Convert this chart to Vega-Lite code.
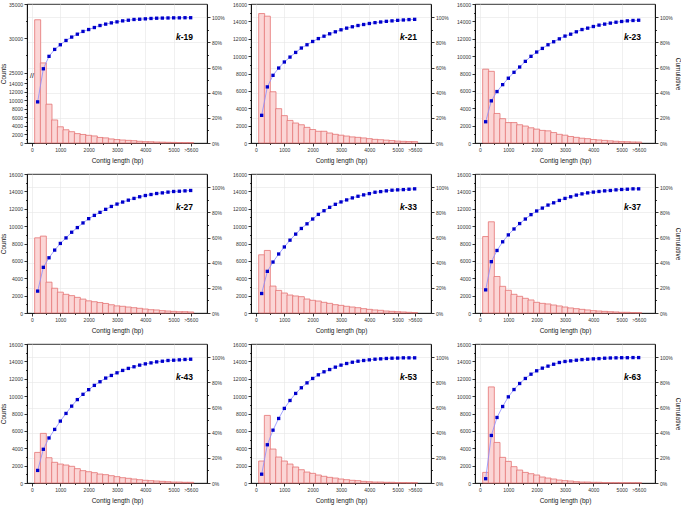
{
"$schema": "https://vega.github.io/schema/vega-lite/v6.json",
"padding": {"left": 0, "top": 1, "right": 0, "bottom": 0},
"datasets": {
"d": [
{"k":"19","len":200,"count":32700,"cum":0.327},{"k":"19","len":400,"count":26400,"cum":0.59},{"k":"19","len":600,"count":9100,"cum":0.689},{"k":"19","len":800,"count":5400,"cum":0.744},{"k":"19","len":1000,"count":3800,"cum":0.781},{"k":"19","len":1200,"count":3100,"cum":0.815},{"k":"19","len":1400,"count":2650,"cum":0.842},{"k":"19","len":1600,"count":2200,"cum":0.865},{"k":"19","len":1800,"count":2000,"cum":0.887},{"k":"19","len":2000,"count":1800,"cum":0.902},{"k":"19","len":2200,"count":1650,"cum":0.918},{"k":"19","len":2400,"count":1300,"cum":0.934},{"k":"19","len":2600,"count":1200,"cum":0.945},{"k":"19","len":2800,"count":950,"cum":0.955},{"k":"19","len":3000,"count":800,"cum":0.963},{"k":"19","len":3200,"count":700,"cum":0.971},{"k":"19","len":3400,"count":620,"cum":0.976},{"k":"19","len":3600,"count":540,"cum":0.982},{"k":"19","len":3800,"count":400,"cum":0.984},{"k":"19","len":4000,"count":320,"cum":0.987},{"k":"19","len":4200,"count":300,"cum":0.99},{"k":"19","len":4400,"count":230,"cum":0.992},{"k":"19","len":4600,"count":200,"cum":0.993},{"k":"19","len":4800,"count":160,"cum":0.994},{"k":"19","len":5000,"count":140,"cum":0.995},{"k":"19","len":5200,"count":100,"cum":0.995},{"k":"19","len":5400,"count":80,"cum":0.996},{"k":"19","len":5600,"count":80,"cum":0.996},
{"k":"21","len":200,"count":14900,"cum":0.22},{"k":"21","len":400,"count":14600,"cum":0.446},{"k":"21","len":600,"count":5900,"cum":0.538},{"k":"21","len":800,"count":3950,"cum":0.596},{"k":"21","len":1000,"count":3150,"cum":0.644},{"k":"21","len":1200,"count":2600,"cum":0.683},{"k":"21","len":1400,"count":2300,"cum":0.72},{"k":"21","len":1600,"count":2100,"cum":0.755},{"k":"21","len":1800,"count":1800,"cum":0.781},{"k":"21","len":2000,"count":1550,"cum":0.807},{"k":"21","len":2200,"count":1350,"cum":0.83},{"k":"21","len":2400,"count":1350,"cum":0.849},{"k":"21","len":2600,"count":1150,"cum":0.868},{"k":"21","len":2800,"count":1000,"cum":0.884},{"k":"21","len":3000,"count":900,"cum":0.9},{"k":"21","len":3200,"count":800,"cum":0.913},{"k":"21","len":3400,"count":700,"cum":0.924},{"k":"21","len":3600,"count":650,"cum":0.934},{"k":"21","len":3800,"count":580,"cum":0.942},{"k":"21","len":4000,"count":500,"cum":0.95},{"k":"21","len":4200,"count":420,"cum":0.957},{"k":"21","len":4400,"count":380,"cum":0.962},{"k":"21","len":4600,"count":330,"cum":0.967},{"k":"21","len":4800,"count":280,"cum":0.971},{"k":"21","len":5000,"count":220,"cum":0.975},{"k":"21","len":5200,"count":190,"cum":0.978},{"k":"21","len":5400,"count":170,"cum":0.981},{"k":"21","len":5600,"count":160,"cum":0.983},
{"k":"23","len":200,"count":8500,"cum":0.169},{"k":"23","len":400,"count":8250,"cum":0.335},{"k":"23","len":600,"count":3400,"cum":0.409},{"k":"23","len":800,"count":2800,"cum":0.464},{"k":"23","len":1000,"count":2350,"cum":0.515},{"k":"23","len":1200,"count":2350,"cum":0.562},{"k":"23","len":1400,"count":2100,"cum":0.604},{"k":"23","len":1600,"count":1950,"cum":0.649},{"k":"23","len":1800,"count":1750,"cum":0.689},{"k":"23","len":2000,"count":1600,"cum":0.723},{"k":"23","len":2200,"count":1450,"cum":0.752},{"k":"23","len":2400,"count":1400,"cum":0.781},{"k":"23","len":2600,"count":1200,"cum":0.805},{"k":"23","len":2800,"count":1000,"cum":0.828},{"k":"23","len":3000,"count":900,"cum":0.85},{"k":"23","len":3200,"count":750,"cum":0.865},{"k":"23","len":3400,"count":650,"cum":0.884},{"k":"23","len":3600,"count":550,"cum":0.902},{"k":"23","len":3800,"count":500,"cum":0.913},{"k":"23","len":4000,"count":400,"cum":0.926},{"k":"23","len":4200,"count":350,"cum":0.937},{"k":"23","len":4400,"count":300,"cum":0.945},{"k":"23","len":4600,"count":250,"cum":0.953},{"k":"23","len":4800,"count":200,"cum":0.96},{"k":"23","len":5000,"count":160,"cum":0.966},{"k":"23","len":5200,"count":150,"cum":0.971},{"k":"23","len":5400,"count":120,"cum":0.974},{"k":"23","len":5600,"count":110,"cum":0.976},
{"k":"27","len":200,"count":8650,"cum":0.174},{"k":"27","len":400,"count":8850,"cum":0.363},{"k":"27","len":600,"count":3550,"cum":0.439},{"k":"27","len":800,"count":2850,"cum":0.5},{"k":"27","len":1000,"count":2400,"cum":0.553},{"k":"27","len":1200,"count":2150,"cum":0.597},{"k":"27","len":1400,"count":2000,"cum":0.642},{"k":"27","len":1600,"count":1800,"cum":0.679},{"k":"27","len":1800,"count":1600,"cum":0.716},{"k":"27","len":2000,"count":1400,"cum":0.75},{"k":"27","len":2200,"count":1300,"cum":0.776},{"k":"27","len":2400,"count":1200,"cum":0.8},{"k":"27","len":2600,"count":1100,"cum":0.824},{"k":"27","len":2800,"count":950,"cum":0.847},{"k":"27","len":3000,"count":820,"cum":0.866},{"k":"27","len":3200,"count":770,"cum":0.882},{"k":"27","len":3400,"count":690,"cum":0.897},{"k":"27","len":3600,"count":610,"cum":0.911},{"k":"27","len":3800,"count":540,"cum":0.924},{"k":"27","len":4000,"count":460,"cum":0.934},{"k":"27","len":4200,"count":380,"cum":0.942},{"k":"27","len":4400,"count":350,"cum":0.95},{"k":"27","len":4600,"count":270,"cum":0.955},{"k":"27","len":4800,"count":230,"cum":0.961},{"k":"27","len":5000,"count":190,"cum":0.966},{"k":"27","len":5200,"count":150,"cum":0.968},{"k":"27","len":5400,"count":150,"cum":0.971},{"k":"27","len":5600,"count":120,"cum":0.974},
{"k":"33","len":200,"count":6700,"cum":0.155},{"k":"33","len":400,"count":7200,"cum":0.331},{"k":"33","len":600,"count":3100,"cum":0.405},{"k":"33","len":800,"count":2600,"cum":0.469},{"k":"33","len":1000,"count":2300,"cum":0.525},{"k":"33","len":1200,"count":2070,"cum":0.579},{"k":"33","len":1400,"count":1960,"cum":0.627},{"k":"33","len":1600,"count":1880,"cum":0.672},{"k":"33","len":1800,"count":1610,"cum":0.709},{"k":"33","len":2000,"count":1460,"cum":0.747},{"k":"33","len":2200,"count":1380,"cum":0.784},{"k":"33","len":2400,"count":1230,"cum":0.813},{"k":"33","len":2600,"count":1110,"cum":0.84},{"k":"33","len":2800,"count":960,"cum":0.864},{"k":"33","len":3000,"count":880,"cum":0.883},{"k":"33","len":3200,"count":770,"cum":0.899},{"k":"33","len":3400,"count":690,"cum":0.915},{"k":"33","len":3600,"count":610,"cum":0.928},{"k":"33","len":3800,"count":500,"cum":0.939},{"k":"33","len":4000,"count":420,"cum":0.949},{"k":"33","len":4200,"count":350,"cum":0.96},{"k":"33","len":4400,"count":310,"cum":0.965},{"k":"33","len":4600,"count":230,"cum":0.971},{"k":"33","len":4800,"count":190,"cum":0.976},{"k":"33","len":5000,"count":150,"cum":0.979},{"k":"33","len":5200,"count":120,"cum":0.981},{"k":"33","len":5400,"count":80,"cum":0.984},{"k":"33","len":5600,"count":50,"cum":0.987},
{"k":"37","len":200,"count":8800,"cum":0.184},{"k":"37","len":400,"count":10500,"cum":0.408},{"k":"37","len":600,"count":4200,"cum":0.497},{"k":"37","len":800,"count":3070,"cum":0.566},{"k":"37","len":1000,"count":2610,"cum":0.621},{"k":"37","len":1200,"count":2150,"cum":0.668},{"k":"37","len":1400,"count":1920,"cum":0.711},{"k":"37","len":1600,"count":1690,"cum":0.747},{"k":"37","len":1800,"count":1500,"cum":0.782},{"k":"37","len":2000,"count":1230,"cum":0.811},{"k":"37","len":2200,"count":1110,"cum":0.834},{"k":"37","len":2400,"count":1040,"cum":0.858},{"k":"37","len":2600,"count":920,"cum":0.876},{"k":"37","len":2800,"count":810,"cum":0.895},{"k":"37","len":3000,"count":690,"cum":0.911},{"k":"37","len":3200,"count":580,"cum":0.924},{"k":"37","len":3400,"count":500,"cum":0.937},{"k":"37","len":3600,"count":420,"cum":0.947},{"k":"37","len":3800,"count":350,"cum":0.955},{"k":"37","len":4000,"count":270,"cum":0.961},{"k":"37","len":4200,"count":230,"cum":0.966},{"k":"37","len":4400,"count":190,"cum":0.971},{"k":"37","len":4600,"count":150,"cum":0.974},{"k":"37","len":4800,"count":120,"cum":0.979},{"k":"37","len":5000,"count":80,"cum":0.982},{"k":"37","len":5200,"count":80,"cum":0.984},{"k":"37","len":5400,"count":50,"cum":0.987},{"k":"37","len":5600,"count":40,"cum":0.987},
{"k":"43","len":200,"count":3520,"cum":0.10},{"k":"43","len":400,"count":5710,"cum":0.268},{"k":"43","len":600,"count":2910,"cum":0.358},{"k":"43","len":800,"count":2380,"cum":0.426},{"k":"43","len":1000,"count":2180,"cum":0.492},{"k":"43","len":1200,"count":2070,"cum":0.553},{"k":"43","len":1400,"count":1920,"cum":0.611},{"k":"43","len":1600,"count":1650,"cum":0.663},{"k":"43","len":1800,"count":1420,"cum":0.705},{"k":"43","len":2000,"count":1300,"cum":0.742},{"k":"43","len":2200,"count":1190,"cum":0.776},{"k":"43","len":2400,"count":1030,"cum":0.805},{"k":"43","len":2600,"count":960,"cum":0.834},{"k":"43","len":2800,"count":840,"cum":0.855},{"k":"43","len":3000,"count":730,"cum":0.876},{"k":"43","len":3200,"count":610,"cum":0.895},{"k":"43","len":3400,"count":540,"cum":0.911},{"k":"43","len":3600,"count":460,"cum":0.924},{"k":"43","len":3800,"count":380,"cum":0.937},{"k":"43","len":4000,"count":310,"cum":0.947},{"k":"43","len":4200,"count":270,"cum":0.955},{"k":"43","len":4400,"count":230,"cum":0.963},{"k":"43","len":4600,"count":190,"cum":0.968},{"k":"43","len":4800,"count":150,"cum":0.974},{"k":"43","len":5000,"count":110,"cum":0.976},{"k":"43","len":5200,"count":110,"cum":0.979},{"k":"43","len":5400,"count":80,"cum":0.982},{"k":"43","len":5600,"count":80,"cum":0.984},
{"k":"53","len":200,"count":2530,"cum":0.07},{"k":"53","len":400,"count":7780,"cum":0.304},{"k":"53","len":600,"count":3910,"cum":0.42},{"k":"53","len":800,"count":2990,"cum":0.513},{"k":"53","len":1000,"count":2530,"cum":0.593},{"k":"53","len":1200,"count":2180,"cum":0.656},{"k":"53","len":1400,"count":1840,"cum":0.712},{"k":"53","len":1600,"count":1530,"cum":0.757},{"k":"53","len":1800,"count":1260,"cum":0.796},{"k":"53","len":2000,"count":1110,"cum":0.831},{"k":"53","len":2200,"count":920,"cum":0.86},{"k":"53","len":2400,"count":770,"cum":0.884},{"k":"53","len":2600,"count":650,"cum":0.902},{"k":"53","len":2800,"count":570,"cum":0.921},{"k":"53","len":3000,"count":460,"cum":0.937},{"k":"53","len":3200,"count":380,"cum":0.95},{"k":"53","len":3400,"count":310,"cum":0.96},{"k":"53","len":3600,"count":270,"cum":0.968},{"k":"53","len":3800,"count":190,"cum":0.974},{"k":"53","len":4000,"count":150,"cum":0.979},{"k":"53","len":4200,"count":110,"cum":0.984},{"k":"53","len":4400,"count":110,"cum":0.987},{"k":"53","len":4600,"count":80,"cum":0.99},{"k":"53","len":4800,"count":80,"cum":0.992},{"k":"53","len":5000,"count":40,"cum":0.993},{"k":"53","len":5200,"count":40,"cum":0.995},{"k":"53","len":5400,"count":30,"cum":0.995},{"k":"53","len":5600,"count":30,"cum":0.995},
{"k":"63","len":200,"count":1220,"cum":0.034},{"k":"63","len":400,"count":11060,"cum":0.378},{"k":"63","len":600,"count":4670,"cum":0.521},{"k":"63","len":800,"count":2950,"cum":0.608},{"k":"63","len":1000,"count":2490,"cum":0.685},{"k":"63","len":1200,"count":1880,"cum":0.743},{"k":"63","len":1400,"count":1490,"cum":0.791},{"k":"63","len":1600,"count":1220,"cum":0.831},{"k":"63","len":1800,"count":1070,"cum":0.865},{"k":"63","len":2000,"count":920,"cum":0.892},{"k":"63","len":2200,"count":690,"cum":0.913},{"k":"63","len":2400,"count":570,"cum":0.929},{"k":"63","len":2600,"count":460,"cum":0.944},{"k":"63","len":2800,"count":340,"cum":0.958},{"k":"63","len":3000,"count":270,"cum":0.966},{"k":"63","len":3200,"count":230,"cum":0.971},{"k":"63","len":3400,"count":150,"cum":0.976},{"k":"63","len":3600,"count":110,"cum":0.981},{"k":"63","len":3800,"count":110,"cum":0.984},{"k":"63","len":4000,"count":80,"cum":0.987},{"k":"63","len":4200,"count":80,"cum":0.989},{"k":"63","len":4400,"count":40,"cum":0.992},{"k":"63","len":4600,"count":30,"cum":0.994},{"k":"63","len":4800,"count":30,"cum":0.995},{"k":"63","len":5000,"count":20,"cum":0.996},{"k":"63","len":5200,"count":20,"cum":0.996},{"k":"63","len":5400,"count":20,"cum":0.997},{"k":"63","len":5600,"count":20,"cum":0.997}
]},
"data": {"name": "d"},
"config": {
  "font": "Liberation Sans",
  "view": {"stroke": "#000", "strokeWidth": 0.8},
  "axis": {"labelFontSize": 5, "titleFontSize": 6.5, "titleFontWeight": "normal", "labelColor": "#333", "titleColor": "#222", "domainColor": "#000", "tickColor": "#000", "domainWidth": 0.8, "tickWidth": 0.8, "tickSize": 3, "labelPadding": 1.5, "titlePadding": 2, "labelFlush": false, "labelOverlap": false, "labelBound": false, "gridColor": "#e6e6e6", "gridWidth": 0.6},
  "axisX": {"titlePadding": 5}
},
"spacing": 6,
"vconcat": [
{"spacing": 7, "hconcat": [
{"width": 180, "height": 139, "transform": [{"filter": "datum.k == '19'"}],
 "layer": [
  {"layer": [
   {"mark": {"type": "bar", "size": 6, "fill": "#fbd6d6", "stroke": "#e57373", "strokeWidth": 0.8},
    "encoding": {"x": {"field": "len", "type": "quantitative", "scale": {"domain": [0, 6000], "nice": false, "zero": false}, "axis": {"title": "Contig length (bp)", "values": [0,500,1000,1500,2000,2500,3000,3500,4000,4500,5000,5600], "format": "d", "labelOverlap": false, "labelExpr": "datum.value == 5600 ? '>5600' : (datum.value % 1000 == 0 ? datum.label : '')", "tickSize": {"condition": {"test": "datum.value % 1000 == 0 || datum.value == 5600", "value": 3}, "value": 1.5}, "gridOpacity": {"condition": {"test": "datum.value % 1000 == 0", "value": 1}, "value": 0}, "grid": true}},
                 "y": {"field": "count", "type": "quantitative", "scale": {"type": "linear", "domain": [0, 15000, 25000, 35000], "range": [139, 75, 68.5, 0], "nice": false, "zero": false}, "axis": {"title": "Counts", "values": [0,1000,2000,3000,4000,5000,6000,7000,8000,9000,10000,11000,12000,13000,14000,15000,25000,27500,30000,32500,35000], "format": "d", "labelOverlap": false, "labelExpr": "(datum.value % 2000 == 0 && datum.value < 15000) || datum.value == 25000 || datum.value == 30000 || datum.value == 35000 ? datum.label : ''", "tickSize": {"condition": {"test": "(datum.value % 2000 == 0 && datum.value < 15000) || datum.value == 25000 || datum.value == 30000 || datum.value == 35000", "value": 3}, "value": 1.5}, "grid": false}}}},
   {"transform": [{"filter": "datum.len == 200"}], "mark": {"type": "text", "text": "//", "fontSize": 7, "align": "center", "baseline": "middle", "color": "#000"},
    "encoding": {"x": {"datum": 0, "type": "quantitative", "axis": null}, "y": {"datum": 20000, "type": "quantitative", "axis": null}}}
  ], "resolve": {"axis": {"x": "independent", "y": "independent"}}},
  {"layer": [
   {"mark": {"type": "line", "color": "#8c8cff", "strokeWidth": 0.8}, "encoding": {"x": {"field": "len", "type": "quantitative", "axis": null}, "y": {"field": "cum", "type": "quantitative", "scale": {"domain": [0, 1.105], "nice": false}, "axis": {"orient": "right", "title": null, "values": [0,0.1,0.2,0.3,0.4,0.5,0.6,0.7,0.8,0.9,1], "format": ".0%", "labelOverlap": false, "labelExpr": "round(datum.value*100) % 20 == 0 ? datum.label : ''", "tickSize": {"condition": {"test": "round(datum.value*100) % 20 == 0", "value": 3}, "value": 1.5}, "gridOpacity": {"condition": {"test": "round(datum.value*100) % 20 == 0", "value": 1}, "value": 0}, "grid": true}}}},
   {"mark": {"type": "point", "shape": "square", "filled": true, "size": 11, "color": "#0000cc", "opacity": 1}, "encoding": {"x": {"field": "len", "type": "quantitative", "axis": null}, "y": {"field": "cum", "type": "quantitative", "axis": null}}},
   {"transform": [{"filter": "datum.len == 200"}], "mark": {"type": "text", "text": "k", "align": "right", "baseline": "middle", "fontSize": 8.5, "fontWeight": "bold", "fontStyle": "italic", "color": "#000"}, "encoding": {"x": {"datum": 5250, "type": "quantitative", "axis": null}, "y": {"datum": 0.84, "type": "quantitative", "axis": null}}},
   {"transform": [{"filter": "datum.len == 200"}], "mark": {"type": "text", "text": "-19", "align": "left", "baseline": "middle", "fontSize": 8.5, "fontWeight": "bold", "color": "#000"}, "encoding": {"x": {"datum": 5250, "type": "quantitative", "axis": null}, "y": {"datum": 0.84, "type": "quantitative", "axis": null}}}
  ], "resolve": {"axis": {"x": "independent", "y": "independent"}}}
 ],
 "resolve": {"scale": {"y": "independent"}, "axis": {"x": "independent", "y": "independent"}}
},
{"width": 180, "height": 139, "transform": [{"filter": "datum.k == '21'"}],
 "layer": [
  {"mark": {"type": "bar", "size": 6, "fill": "#fbd6d6", "stroke": "#e57373", "strokeWidth": 0.8},
   "encoding": {"x": {"field": "len", "type": "quantitative", "scale": {"domain": [0, 6000], "nice": false, "zero": false}, "axis": {"title": "Contig length (bp)", "values": [0,500,1000,1500,2000,2500,3000,3500,4000,4500,5000,5600], "format": "d", "labelOverlap": false, "labelExpr": "datum.value == 5600 ? '>5600' : (datum.value % 1000 == 0 ? datum.label : '')", "tickSize": {"condition": {"test": "datum.value % 1000 == 0 || datum.value == 5600", "value": 3}, "value": 1.5}, "gridOpacity": {"condition": {"test": "datum.value % 1000 == 0", "value": 1}, "value": 0}, "grid": true}},
                "y": {"field": "count", "type": "quantitative", "scale": {"domain": [0, 16000], "nice": false}, "axis": {"title": null, "values": [0,1000,2000,3000,4000,5000,6000,7000,8000,9000,10000,11000,12000,13000,14000,15000,16000], "format": "d", "labelOverlap": false, "labelExpr": "datum.value % 2000 == 0 ? datum.label : ''", "tickSize": {"condition": {"test": "datum.value % 2000 == 0", "value": 3}, "value": 1.5}, "grid": false}}}},
  {"layer": [
   {"mark": {"type": "line", "color": "#8c8cff", "strokeWidth": 0.8}, "encoding": {"x": {"field": "len", "type": "quantitative", "axis": null}, "y": {"field": "cum", "type": "quantitative", "scale": {"domain": [0, 1.105], "nice": false}, "axis": {"orient": "right", "title": null, "values": [0,0.1,0.2,0.3,0.4,0.5,0.6,0.7,0.8,0.9,1], "format": ".0%", "labelOverlap": false, "labelExpr": "round(datum.value*100) % 20 == 0 ? datum.label : ''", "tickSize": {"condition": {"test": "round(datum.value*100) % 20 == 0", "value": 3}, "value": 1.5}, "gridOpacity": {"condition": {"test": "round(datum.value*100) % 20 == 0", "value": 1}, "value": 0}, "grid": true}}}},
   {"mark": {"type": "point", "shape": "square", "filled": true, "size": 11, "color": "#0000cc", "opacity": 1}, "encoding": {"x": {"field": "len", "type": "quantitative", "axis": null}, "y": {"field": "cum", "type": "quantitative", "axis": null}}},
   {"transform": [{"filter": "datum.len == 200"}], "mark": {"type": "text", "text": "k", "align": "right", "baseline": "middle", "fontSize": 8.5, "fontWeight": "bold", "fontStyle": "italic", "color": "#000"}, "encoding": {"x": {"datum": 5250, "type": "quantitative", "axis": null}, "y": {"datum": 0.84, "type": "quantitative", "axis": null}}},
   {"transform": [{"filter": "datum.len == 200"}], "mark": {"type": "text", "text": "-21", "align": "left", "baseline": "middle", "fontSize": 8.5, "fontWeight": "bold", "color": "#000"}, "encoding": {"x": {"datum": 5250, "type": "quantitative", "axis": null}, "y": {"datum": 0.84, "type": "quantitative", "axis": null}}}
  ], "resolve": {"axis": {"x": "independent", "y": "independent"}}}
 ],
 "resolve": {"scale": {"y": "independent"}, "axis": {"x": "independent", "y": "independent"}}
},
{"width": 180, "height": 139, "transform": [{"filter": "datum.k == '23'"}],
 "layer": [
  {"mark": {"type": "bar", "size": 6, "fill": "#fbd6d6", "stroke": "#e57373", "strokeWidth": 0.8},
   "encoding": {"x": {"field": "len", "type": "quantitative", "scale": {"domain": [0, 6000], "nice": false, "zero": false}, "axis": {"title": "Contig length (bp)", "values": [0,500,1000,1500,2000,2500,3000,3500,4000,4500,5000,5600], "format": "d", "labelOverlap": false, "labelExpr": "datum.value == 5600 ? '>5600' : (datum.value % 1000 == 0 ? datum.label : '')", "tickSize": {"condition": {"test": "datum.value % 1000 == 0 || datum.value == 5600", "value": 3}, "value": 1.5}, "gridOpacity": {"condition": {"test": "datum.value % 1000 == 0", "value": 1}, "value": 0}, "grid": true}},
                "y": {"field": "count", "type": "quantitative", "scale": {"domain": [0, 16000], "nice": false}, "axis": {"title": null, "values": [0,1000,2000,3000,4000,5000,6000,7000,8000,9000,10000,11000,12000,13000,14000,15000,16000], "format": "d", "labelOverlap": false, "labelExpr": "datum.value % 2000 == 0 ? datum.label : ''", "tickSize": {"condition": {"test": "datum.value % 2000 == 0", "value": 3}, "value": 1.5}, "grid": false}}}},
  {"layer": [
   {"mark": {"type": "line", "color": "#8c8cff", "strokeWidth": 0.8}, "encoding": {"x": {"field": "len", "type": "quantitative", "axis": null}, "y": {"field": "cum", "type": "quantitative", "scale": {"domain": [0, 1.105], "nice": false}, "axis": {"orient": "right", "title": "Cumulative", "values": [0,0.1,0.2,0.3,0.4,0.5,0.6,0.7,0.8,0.9,1], "format": ".0%", "labelOverlap": false, "labelExpr": "round(datum.value*100) % 20 == 0 ? datum.label : ''", "tickSize": {"condition": {"test": "round(datum.value*100) % 20 == 0", "value": 3}, "value": 1.5}, "gridOpacity": {"condition": {"test": "round(datum.value*100) % 20 == 0", "value": 1}, "value": 0}, "grid": true}}}},
   {"mark": {"type": "point", "shape": "square", "filled": true, "size": 11, "color": "#0000cc", "opacity": 1}, "encoding": {"x": {"field": "len", "type": "quantitative", "axis": null}, "y": {"field": "cum", "type": "quantitative", "axis": null}}},
   {"transform": [{"filter": "datum.len == 200"}], "mark": {"type": "text", "text": "k", "align": "right", "baseline": "middle", "fontSize": 8.5, "fontWeight": "bold", "fontStyle": "italic", "color": "#000"}, "encoding": {"x": {"datum": 5250, "type": "quantitative", "axis": null}, "y": {"datum": 0.84, "type": "quantitative", "axis": null}}},
   {"transform": [{"filter": "datum.len == 200"}], "mark": {"type": "text", "text": "-23", "align": "left", "baseline": "middle", "fontSize": 8.5, "fontWeight": "bold", "color": "#000"}, "encoding": {"x": {"datum": 5250, "type": "quantitative", "axis": null}, "y": {"datum": 0.84, "type": "quantitative", "axis": null}}}
  ], "resolve": {"axis": {"x": "independent", "y": "independent"}}}
 ],
 "resolve": {"scale": {"y": "independent"}, "axis": {"x": "independent", "y": "independent"}}
}
]},
{"spacing": 7, "hconcat": [
{"width": 180, "height": 139, "transform": [{"filter": "datum.k == '27'"}],
 "layer": [
  {"mark": {"type": "bar", "size": 6, "fill": "#fbd6d6", "stroke": "#e57373", "strokeWidth": 0.8},
   "encoding": {"x": {"field": "len", "type": "quantitative", "scale": {"domain": [0, 6000], "nice": false, "zero": false}, "axis": {"title": "Contig length (bp)", "values": [0,500,1000,1500,2000,2500,3000,3500,4000,4500,5000,5600], "format": "d", "labelOverlap": false, "labelExpr": "datum.value == 5600 ? '>5600' : (datum.value % 1000 == 0 ? datum.label : '')", "tickSize": {"condition": {"test": "datum.value % 1000 == 0 || datum.value == 5600", "value": 3}, "value": 1.5}, "gridOpacity": {"condition": {"test": "datum.value % 1000 == 0", "value": 1}, "value": 0}, "grid": true}},
                "y": {"field": "count", "type": "quantitative", "scale": {"domain": [0, 16000], "nice": false}, "axis": {"title": "Counts", "values": [0,1000,2000,3000,4000,5000,6000,7000,8000,9000,10000,11000,12000,13000,14000,15000,16000], "format": "d", "labelOverlap": false, "labelExpr": "datum.value % 2000 == 0 ? datum.label : ''", "tickSize": {"condition": {"test": "datum.value % 2000 == 0", "value": 3}, "value": 1.5}, "grid": false}}}},
  {"layer": [
   {"mark": {"type": "line", "color": "#8c8cff", "strokeWidth": 0.8}, "encoding": {"x": {"field": "len", "type": "quantitative", "axis": null}, "y": {"field": "cum", "type": "quantitative", "scale": {"domain": [0, 1.105], "nice": false}, "axis": {"orient": "right", "title": null, "values": [0,0.1,0.2,0.3,0.4,0.5,0.6,0.7,0.8,0.9,1], "format": ".0%", "labelOverlap": false, "labelExpr": "round(datum.value*100) % 20 == 0 ? datum.label : ''", "tickSize": {"condition": {"test": "round(datum.value*100) % 20 == 0", "value": 3}, "value": 1.5}, "gridOpacity": {"condition": {"test": "round(datum.value*100) % 20 == 0", "value": 1}, "value": 0}, "grid": true}}}},
   {"mark": {"type": "point", "shape": "square", "filled": true, "size": 11, "color": "#0000cc", "opacity": 1}, "encoding": {"x": {"field": "len", "type": "quantitative", "axis": null}, "y": {"field": "cum", "type": "quantitative", "axis": null}}},
   {"transform": [{"filter": "datum.len == 200"}], "mark": {"type": "text", "text": "k", "align": "right", "baseline": "middle", "fontSize": 8.5, "fontWeight": "bold", "fontStyle": "italic", "color": "#000"}, "encoding": {"x": {"datum": 5250, "type": "quantitative", "axis": null}, "y": {"datum": 0.84, "type": "quantitative", "axis": null}}},
   {"transform": [{"filter": "datum.len == 200"}], "mark": {"type": "text", "text": "-27", "align": "left", "baseline": "middle", "fontSize": 8.5, "fontWeight": "bold", "color": "#000"}, "encoding": {"x": {"datum": 5250, "type": "quantitative", "axis": null}, "y": {"datum": 0.84, "type": "quantitative", "axis": null}}}
  ], "resolve": {"axis": {"x": "independent", "y": "independent"}}}
 ],
 "resolve": {"scale": {"y": "independent"}, "axis": {"x": "independent", "y": "independent"}}
},
{"width": 180, "height": 139, "transform": [{"filter": "datum.k == '33'"}],
 "layer": [
  {"mark": {"type": "bar", "size": 6, "fill": "#fbd6d6", "stroke": "#e57373", "strokeWidth": 0.8},
   "encoding": {"x": {"field": "len", "type": "quantitative", "scale": {"domain": [0, 6000], "nice": false, "zero": false}, "axis": {"title": "Contig length (bp)", "values": [0,500,1000,1500,2000,2500,3000,3500,4000,4500,5000,5600], "format": "d", "labelOverlap": false, "labelExpr": "datum.value == 5600 ? '>5600' : (datum.value % 1000 == 0 ? datum.label : '')", "tickSize": {"condition": {"test": "datum.value % 1000 == 0 || datum.value == 5600", "value": 3}, "value": 1.5}, "gridOpacity": {"condition": {"test": "datum.value % 1000 == 0", "value": 1}, "value": 0}, "grid": true}},
                "y": {"field": "count", "type": "quantitative", "scale": {"domain": [0, 16000], "nice": false}, "axis": {"title": null, "values": [0,1000,2000,3000,4000,5000,6000,7000,8000,9000,10000,11000,12000,13000,14000,15000,16000], "format": "d", "labelOverlap": false, "labelExpr": "datum.value % 2000 == 0 ? datum.label : ''", "tickSize": {"condition": {"test": "datum.value % 2000 == 0", "value": 3}, "value": 1.5}, "grid": false}}}},
  {"layer": [
   {"mark": {"type": "line", "color": "#8c8cff", "strokeWidth": 0.8}, "encoding": {"x": {"field": "len", "type": "quantitative", "axis": null}, "y": {"field": "cum", "type": "quantitative", "scale": {"domain": [0, 1.105], "nice": false}, "axis": {"orient": "right", "title": null, "values": [0,0.1,0.2,0.3,0.4,0.5,0.6,0.7,0.8,0.9,1], "format": ".0%", "labelOverlap": false, "labelExpr": "round(datum.value*100) % 20 == 0 ? datum.label : ''", "tickSize": {"condition": {"test": "round(datum.value*100) % 20 == 0", "value": 3}, "value": 1.5}, "gridOpacity": {"condition": {"test": "round(datum.value*100) % 20 == 0", "value": 1}, "value": 0}, "grid": true}}}},
   {"mark": {"type": "point", "shape": "square", "filled": true, "size": 11, "color": "#0000cc", "opacity": 1}, "encoding": {"x": {"field": "len", "type": "quantitative", "axis": null}, "y": {"field": "cum", "type": "quantitative", "axis": null}}},
   {"transform": [{"filter": "datum.len == 200"}], "mark": {"type": "text", "text": "k", "align": "right", "baseline": "middle", "fontSize": 8.5, "fontWeight": "bold", "fontStyle": "italic", "color": "#000"}, "encoding": {"x": {"datum": 5250, "type": "quantitative", "axis": null}, "y": {"datum": 0.84, "type": "quantitative", "axis": null}}},
   {"transform": [{"filter": "datum.len == 200"}], "mark": {"type": "text", "text": "-33", "align": "left", "baseline": "middle", "fontSize": 8.5, "fontWeight": "bold", "color": "#000"}, "encoding": {"x": {"datum": 5250, "type": "quantitative", "axis": null}, "y": {"datum": 0.84, "type": "quantitative", "axis": null}}}
  ], "resolve": {"axis": {"x": "independent", "y": "independent"}}}
 ],
 "resolve": {"scale": {"y": "independent"}, "axis": {"x": "independent", "y": "independent"}}
},
{"width": 180, "height": 139, "transform": [{"filter": "datum.k == '37'"}],
 "layer": [
  {"mark": {"type": "bar", "size": 6, "fill": "#fbd6d6", "stroke": "#e57373", "strokeWidth": 0.8},
   "encoding": {"x": {"field": "len", "type": "quantitative", "scale": {"domain": [0, 6000], "nice": false, "zero": false}, "axis": {"title": "Contig length (bp)", "values": [0,500,1000,1500,2000,2500,3000,3500,4000,4500,5000,5600], "format": "d", "labelOverlap": false, "labelExpr": "datum.value == 5600 ? '>5600' : (datum.value % 1000 == 0 ? datum.label : '')", "tickSize": {"condition": {"test": "datum.value % 1000 == 0 || datum.value == 5600", "value": 3}, "value": 1.5}, "gridOpacity": {"condition": {"test": "datum.value % 1000 == 0", "value": 1}, "value": 0}, "grid": true}},
                "y": {"field": "count", "type": "quantitative", "scale": {"domain": [0, 16000], "nice": false}, "axis": {"title": null, "values": [0,1000,2000,3000,4000,5000,6000,7000,8000,9000,10000,11000,12000,13000,14000,15000,16000], "format": "d", "labelOverlap": false, "labelExpr": "datum.value % 2000 == 0 ? datum.label : ''", "tickSize": {"condition": {"test": "datum.value % 2000 == 0", "value": 3}, "value": 1.5}, "grid": false}}}},
  {"layer": [
   {"mark": {"type": "line", "color": "#8c8cff", "strokeWidth": 0.8}, "encoding": {"x": {"field": "len", "type": "quantitative", "axis": null}, "y": {"field": "cum", "type": "quantitative", "scale": {"domain": [0, 1.105], "nice": false}, "axis": {"orient": "right", "title": "Cumulative", "values": [0,0.1,0.2,0.3,0.4,0.5,0.6,0.7,0.8,0.9,1], "format": ".0%", "labelOverlap": false, "labelExpr": "round(datum.value*100) % 20 == 0 ? datum.label : ''", "tickSize": {"condition": {"test": "round(datum.value*100) % 20 == 0", "value": 3}, "value": 1.5}, "gridOpacity": {"condition": {"test": "round(datum.value*100) % 20 == 0", "value": 1}, "value": 0}, "grid": true}}}},
   {"mark": {"type": "point", "shape": "square", "filled": true, "size": 11, "color": "#0000cc", "opacity": 1}, "encoding": {"x": {"field": "len", "type": "quantitative", "axis": null}, "y": {"field": "cum", "type": "quantitative", "axis": null}}},
   {"transform": [{"filter": "datum.len == 200"}], "mark": {"type": "text", "text": "k", "align": "right", "baseline": "middle", "fontSize": 8.5, "fontWeight": "bold", "fontStyle": "italic", "color": "#000"}, "encoding": {"x": {"datum": 5250, "type": "quantitative", "axis": null}, "y": {"datum": 0.84, "type": "quantitative", "axis": null}}},
   {"transform": [{"filter": "datum.len == 200"}], "mark": {"type": "text", "text": "-37", "align": "left", "baseline": "middle", "fontSize": 8.5, "fontWeight": "bold", "color": "#000"}, "encoding": {"x": {"datum": 5250, "type": "quantitative", "axis": null}, "y": {"datum": 0.84, "type": "quantitative", "axis": null}}}
  ], "resolve": {"axis": {"x": "independent", "y": "independent"}}}
 ],
 "resolve": {"scale": {"y": "independent"}, "axis": {"x": "independent", "y": "independent"}}
}
]},
{"spacing": 7, "hconcat": [
{"width": 180, "height": 139, "transform": [{"filter": "datum.k == '43'"}],
 "layer": [
  {"mark": {"type": "bar", "size": 6, "fill": "#fbd6d6", "stroke": "#e57373", "strokeWidth": 0.8},
   "encoding": {"x": {"field": "len", "type": "quantitative", "scale": {"domain": [0, 6000], "nice": false, "zero": false}, "axis": {"title": "Contig length (bp)", "values": [0,500,1000,1500,2000,2500,3000,3500,4000,4500,5000,5600], "format": "d", "labelOverlap": false, "labelExpr": "datum.value == 5600 ? '>5600' : (datum.value % 1000 == 0 ? datum.label : '')", "tickSize": {"condition": {"test": "datum.value % 1000 == 0 || datum.value == 5600", "value": 3}, "value": 1.5}, "gridOpacity": {"condition": {"test": "datum.value % 1000 == 0", "value": 1}, "value": 0}, "grid": true}},
                "y": {"field": "count", "type": "quantitative", "scale": {"domain": [0, 16000], "nice": false}, "axis": {"title": "Counts", "values": [0,1000,2000,3000,4000,5000,6000,7000,8000,9000,10000,11000,12000,13000,14000,15000,16000], "format": "d", "labelOverlap": false, "labelExpr": "datum.value % 2000 == 0 ? datum.label : ''", "tickSize": {"condition": {"test": "datum.value % 2000 == 0", "value": 3}, "value": 1.5}, "grid": false}}}},
  {"layer": [
   {"mark": {"type": "line", "color": "#8c8cff", "strokeWidth": 0.8}, "encoding": {"x": {"field": "len", "type": "quantitative", "axis": null}, "y": {"field": "cum", "type": "quantitative", "scale": {"domain": [0, 1.105], "nice": false}, "axis": {"orient": "right", "title": null, "values": [0,0.1,0.2,0.3,0.4,0.5,0.6,0.7,0.8,0.9,1], "format": ".0%", "labelOverlap": false, "labelExpr": "round(datum.value*100) % 20 == 0 ? datum.label : ''", "tickSize": {"condition": {"test": "round(datum.value*100) % 20 == 0", "value": 3}, "value": 1.5}, "gridOpacity": {"condition": {"test": "round(datum.value*100) % 20 == 0", "value": 1}, "value": 0}, "grid": true}}}},
   {"mark": {"type": "point", "shape": "square", "filled": true, "size": 11, "color": "#0000cc", "opacity": 1}, "encoding": {"x": {"field": "len", "type": "quantitative", "axis": null}, "y": {"field": "cum", "type": "quantitative", "axis": null}}},
   {"transform": [{"filter": "datum.len == 200"}], "mark": {"type": "text", "text": "k", "align": "right", "baseline": "middle", "fontSize": 8.5, "fontWeight": "bold", "fontStyle": "italic", "color": "#000"}, "encoding": {"x": {"datum": 5250, "type": "quantitative", "axis": null}, "y": {"datum": 0.84, "type": "quantitative", "axis": null}}},
   {"transform": [{"filter": "datum.len == 200"}], "mark": {"type": "text", "text": "-43", "align": "left", "baseline": "middle", "fontSize": 8.5, "fontWeight": "bold", "color": "#000"}, "encoding": {"x": {"datum": 5250, "type": "quantitative", "axis": null}, "y": {"datum": 0.84, "type": "quantitative", "axis": null}}}
  ], "resolve": {"axis": {"x": "independent", "y": "independent"}}}
 ],
 "resolve": {"scale": {"y": "independent"}, "axis": {"x": "independent", "y": "independent"}}
},
{"width": 180, "height": 139, "transform": [{"filter": "datum.k == '53'"}],
 "layer": [
  {"mark": {"type": "bar", "size": 6, "fill": "#fbd6d6", "stroke": "#e57373", "strokeWidth": 0.8},
   "encoding": {"x": {"field": "len", "type": "quantitative", "scale": {"domain": [0, 6000], "nice": false, "zero": false}, "axis": {"title": "Contig length (bp)", "values": [0,500,1000,1500,2000,2500,3000,3500,4000,4500,5000,5600], "format": "d", "labelOverlap": false, "labelExpr": "datum.value == 5600 ? '>5600' : (datum.value % 1000 == 0 ? datum.label : '')", "tickSize": {"condition": {"test": "datum.value % 1000 == 0 || datum.value == 5600", "value": 3}, "value": 1.5}, "gridOpacity": {"condition": {"test": "datum.value % 1000 == 0", "value": 1}, "value": 0}, "grid": true}},
                "y": {"field": "count", "type": "quantitative", "scale": {"domain": [0, 16000], "nice": false}, "axis": {"title": null, "values": [0,1000,2000,3000,4000,5000,6000,7000,8000,9000,10000,11000,12000,13000,14000,15000,16000], "format": "d", "labelOverlap": false, "labelExpr": "datum.value % 2000 == 0 ? datum.label : ''", "tickSize": {"condition": {"test": "datum.value % 2000 == 0", "value": 3}, "value": 1.5}, "grid": false}}}},
  {"layer": [
   {"mark": {"type": "line", "color": "#8c8cff", "strokeWidth": 0.8}, "encoding": {"x": {"field": "len", "type": "quantitative", "axis": null}, "y": {"field": "cum", "type": "quantitative", "scale": {"domain": [0, 1.105], "nice": false}, "axis": {"orient": "right", "title": null, "values": [0,0.1,0.2,0.3,0.4,0.5,0.6,0.7,0.8,0.9,1], "format": ".0%", "labelOverlap": false, "labelExpr": "round(datum.value*100) % 20 == 0 ? datum.label : ''", "tickSize": {"condition": {"test": "round(datum.value*100) % 20 == 0", "value": 3}, "value": 1.5}, "gridOpacity": {"condition": {"test": "round(datum.value*100) % 20 == 0", "value": 1}, "value": 0}, "grid": true}}}},
   {"mark": {"type": "point", "shape": "square", "filled": true, "size": 11, "color": "#0000cc", "opacity": 1}, "encoding": {"x": {"field": "len", "type": "quantitative", "axis": null}, "y": {"field": "cum", "type": "quantitative", "axis": null}}},
   {"transform": [{"filter": "datum.len == 200"}], "mark": {"type": "text", "text": "k", "align": "right", "baseline": "middle", "fontSize": 8.5, "fontWeight": "bold", "fontStyle": "italic", "color": "#000"}, "encoding": {"x": {"datum": 5250, "type": "quantitative", "axis": null}, "y": {"datum": 0.84, "type": "quantitative", "axis": null}}},
   {"transform": [{"filter": "datum.len == 200"}], "mark": {"type": "text", "text": "-53", "align": "left", "baseline": "middle", "fontSize": 8.5, "fontWeight": "bold", "color": "#000"}, "encoding": {"x": {"datum": 5250, "type": "quantitative", "axis": null}, "y": {"datum": 0.84, "type": "quantitative", "axis": null}}}
  ], "resolve": {"axis": {"x": "independent", "y": "independent"}}}
 ],
 "resolve": {"scale": {"y": "independent"}, "axis": {"x": "independent", "y": "independent"}}
},
{"width": 180, "height": 139, "transform": [{"filter": "datum.k == '63'"}],
 "layer": [
  {"mark": {"type": "bar", "size": 6, "fill": "#fbd6d6", "stroke": "#e57373", "strokeWidth": 0.8},
   "encoding": {"x": {"field": "len", "type": "quantitative", "scale": {"domain": [0, 6000], "nice": false, "zero": false}, "axis": {"title": "Contig length (bp)", "values": [0,500,1000,1500,2000,2500,3000,3500,4000,4500,5000,5600], "format": "d", "labelOverlap": false, "labelExpr": "datum.value == 5600 ? '>5600' : (datum.value % 1000 == 0 ? datum.label : '')", "tickSize": {"condition": {"test": "datum.value % 1000 == 0 || datum.value == 5600", "value": 3}, "value": 1.5}, "gridOpacity": {"condition": {"test": "datum.value % 1000 == 0", "value": 1}, "value": 0}, "grid": true}},
                "y": {"field": "count", "type": "quantitative", "scale": {"domain": [0, 16000], "nice": false}, "axis": {"title": null, "values": [0,1000,2000,3000,4000,5000,6000,7000,8000,9000,10000,11000,12000,13000,14000,15000,16000], "format": "d", "labelOverlap": false, "labelExpr": "datum.value % 2000 == 0 ? datum.label : ''", "tickSize": {"condition": {"test": "datum.value % 2000 == 0", "value": 3}, "value": 1.5}, "grid": false}}}},
  {"layer": [
   {"mark": {"type": "line", "color": "#8c8cff", "strokeWidth": 0.8}, "encoding": {"x": {"field": "len", "type": "quantitative", "axis": null}, "y": {"field": "cum", "type": "quantitative", "scale": {"domain": [0, 1.105], "nice": false}, "axis": {"orient": "right", "title": "Cumulative", "values": [0,0.1,0.2,0.3,0.4,0.5,0.6,0.7,0.8,0.9,1], "format": ".0%", "labelOverlap": false, "labelExpr": "round(datum.value*100) % 20 == 0 ? datum.label : ''", "tickSize": {"condition": {"test": "round(datum.value*100) % 20 == 0", "value": 3}, "value": 1.5}, "gridOpacity": {"condition": {"test": "round(datum.value*100) % 20 == 0", "value": 1}, "value": 0}, "grid": true}}}},
   {"mark": {"type": "point", "shape": "square", "filled": true, "size": 11, "color": "#0000cc", "opacity": 1}, "encoding": {"x": {"field": "len", "type": "quantitative", "axis": null}, "y": {"field": "cum", "type": "quantitative", "axis": null}}},
   {"transform": [{"filter": "datum.len == 200"}], "mark": {"type": "text", "text": "k", "align": "right", "baseline": "middle", "fontSize": 8.5, "fontWeight": "bold", "fontStyle": "italic", "color": "#000"}, "encoding": {"x": {"datum": 5250, "type": "quantitative", "axis": null}, "y": {"datum": 0.84, "type": "quantitative", "axis": null}}},
   {"transform": [{"filter": "datum.len == 200"}], "mark": {"type": "text", "text": "-63", "align": "left", "baseline": "middle", "fontSize": 8.5, "fontWeight": "bold", "color": "#000"}, "encoding": {"x": {"datum": 5250, "type": "quantitative", "axis": null}, "y": {"datum": 0.84, "type": "quantitative", "axis": null}}}
  ], "resolve": {"axis": {"x": "independent", "y": "independent"}}}
 ],
 "resolve": {"scale": {"y": "independent"}, "axis": {"x": "independent", "y": "independent"}}
}
]}
]
}
